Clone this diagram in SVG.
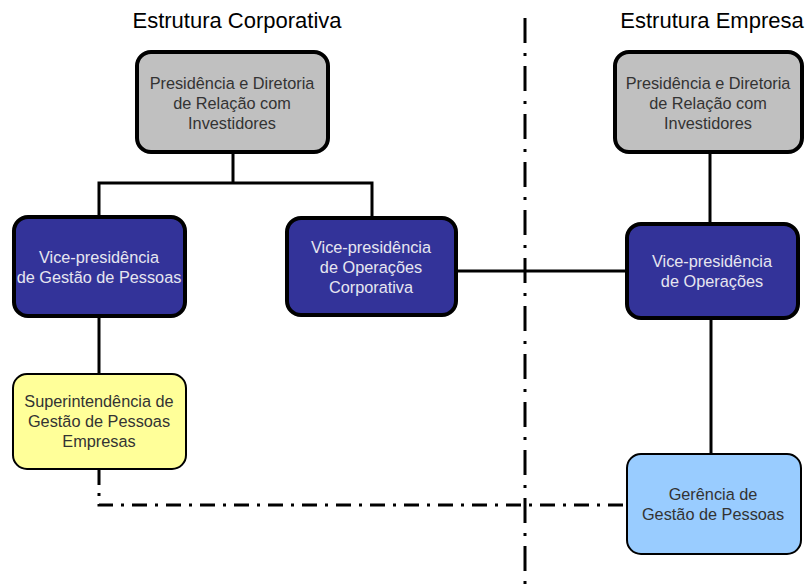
<svg xmlns="http://www.w3.org/2000/svg" width="808" height="587" viewBox="0 0 808 587">
<style>
text{font-family:"Liberation Sans",Arial,sans-serif;text-anchor:middle}
.title{font-size:22px;fill:#000}
.t{font-size:16.3px;fill:#333}
.tw{font-size:16.3px;fill:#E6E6F0}
.gray{fill:#C0C0C0;stroke:#000;stroke-width:4}
.vp{fill:#333399;stroke:#000;stroke-width:4}
.yel{fill:#FFFF99;stroke:#000;stroke-width:2}
.blu{fill:#99CCFF;stroke:#000;stroke-width:2}
.conn{fill:none;stroke:#000;stroke-width:3}
.dd1{fill:none;stroke:#000;stroke-width:3;stroke-dasharray:25 10 3 10}
.dd2{fill:none;stroke:#000;stroke-width:3;stroke-dasharray:15 8 3 8}
</style>
<rect width="808" height="587" fill="#fff"/>
<text class="title" x="237" y="28">Estrutura Corporativa</text>
<text class="title" x="712" y="28">Estrutura Empresa</text>
<g id="connectors">
<path class="conn" d="M99 217 V183 H372 V218 M233 183 V154"/>
<path class="conn" d="M99 318 V374"/>
<path class="conn" d="M458 271 H627"/>
<path class="conn" d="M710 154 V224"/>
<path class="conn" d="M711 320 V454"/>
<path class="dd1" d="M525 18 V587"/>
<path class="dd2" d="M99 470 V505 H627"/>
</g>
<g id="pres-corp">
<rect class="gray" x="137" y="52" width="191" height="100" rx="14"/>
<text class="t" x="232" y="89">Presidência e Diretoria</text>
<text class="t" x="232" y="109">de Relação com</text>
<text class="t" x="232" y="129">Investidores</text>
</g>
<g id="pres-emp">
<rect class="gray" x="615" y="52" width="187" height="100" rx="14"/>
<text class="t" x="708" y="89">Presidência e Diretoria</text>
<text class="t" x="708" y="109">de Relação com</text>
<text class="t" x="708" y="129">Investidores</text>
</g>
<g id="vp-gestao">
<rect class="vp" x="14" y="217" width="171" height="99" rx="14"/>
<text class="tw" x="99" y="263">Vice-presidência</text>
<text class="tw" x="99" y="283">de Gestão de Pessoas</text>
</g>
<g id="vp-op-corp">
<rect class="vp" x="287" y="218" width="169" height="97" rx="14"/>
<text class="tw" x="371" y="253">Vice-presidência</text>
<text class="tw" x="371" y="273">de Operações</text>
<text class="tw" x="371" y="293">Corporativa</text>
</g>
<g id="vp-op">
<rect class="vp" x="627" y="224" width="171" height="94" rx="14"/>
<text class="tw" x="712" y="267">Vice-presidência</text>
<text class="tw" x="712" y="287">de Operações</text>
</g>
<g id="superint">
<rect class="yel" x="13" y="374" width="173" height="95" rx="14"/>
<text class="t" x="99" y="407">Superintendência de</text>
<text class="t" x="99" y="427">Gestão de Pessoas</text>
<text class="t" x="99" y="447">Empresas</text>
</g>
<g id="gerencia">
<rect class="blu" x="627" y="454" width="174" height="100" rx="14"/>
<text class="t" x="713" y="500">Gerência de</text>
<text class="t" x="713" y="520">Gestão de Pessoas</text>
</g>
</svg>
